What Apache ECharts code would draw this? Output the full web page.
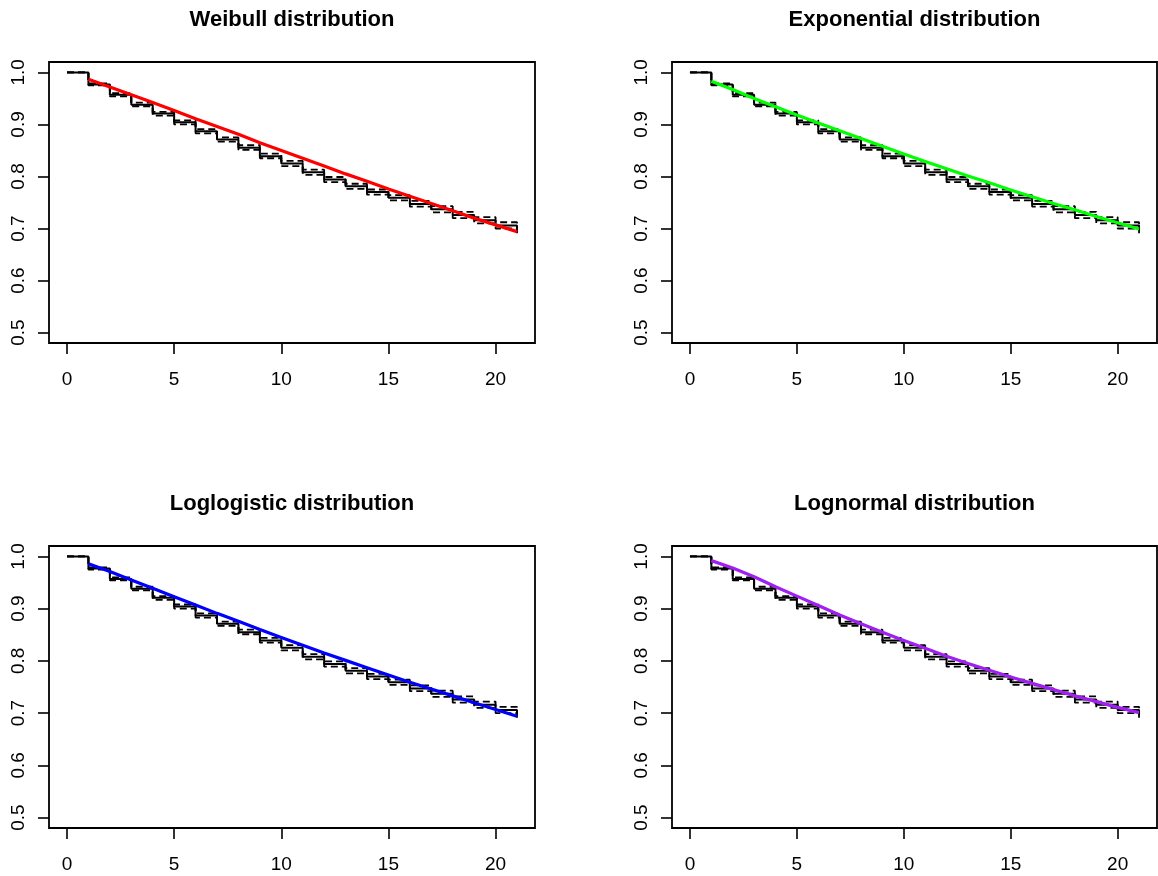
<!DOCTYPE html>
<html>
<head>
<meta charset="utf-8">
<title>Survival fits</title>
<script src="https://cdn.jsdelivr.net/npm/echarts/dist/echarts.min.js"></script>
<style>
  html, body { margin: 0; padding: 0; background: #fff; }
  #chart { width: 1158px; height: 876px; }
</style>
</head>
<body>
<div id="chart"></div>
<script>
// Kaplan-Meier estimate with pointwise confidence limits
const timePoints = [0, 1, 2, 3, 4, 5, 6, 7, 8, 9, 10, 11, 12, 13, 14, 15, 16, 17, 18, 19, 20, 21];
const kmSurvival = [1.0, 0.977, 0.957, 0.938, 0.921, 0.904, 0.887, 0.871, 0.855, 0.839, 0.825,
                    0.808, 0.794, 0.781, 0.770, 0.759, 0.747, 0.737, 0.726, 0.716, 0.706, 0.697];
const kmLower = [1.0, 0.975, 0.954, 0.935, 0.917, 0.900, 0.883, 0.867, 0.851, 0.835, 0.820,
                 0.803, 0.789, 0.776, 0.765, 0.754, 0.742, 0.731, 0.720, 0.710, 0.700, 0.691];
const kmUpper = [1.0, 0.979, 0.960, 0.942, 0.924, 0.908, 0.891, 0.875, 0.860, 0.844, 0.830,
                 0.813, 0.799, 0.786, 0.775, 0.764, 0.753, 0.743, 0.732, 0.722, 0.712, 0.703];

// Parametric survival curves evaluated at the event times
const fitTimes = [1, 2, 3, 4, 5, 6, 7, 8, 9, 10, 11, 12, 13, 14, 15, 16, 17, 18, 19, 20, 21];
const weibullFit = [0.987, 0.972, 0.957, 0.942, 0.927, 0.911, 0.896, 0.881, 0.865, 0.850, 0.835,
                    0.820, 0.805, 0.791, 0.776, 0.762, 0.748, 0.734, 0.720, 0.707, 0.694];
const exponentialFit = [0.983, 0.967, 0.950, 0.934, 0.918, 0.903, 0.888, 0.873, 0.858, 0.843, 0.829,
                        0.815, 0.801, 0.788, 0.774, 0.761, 0.748, 0.736, 0.723, 0.711, 0.699];
const loglogisticFit = [0.986, 0.971, 0.955, 0.939, 0.923, 0.907, 0.891, 0.876, 0.860, 0.845, 0.830,
                        0.815, 0.801, 0.787, 0.773, 0.759, 0.746, 0.733, 0.720, 0.707, 0.694];
const lognormalFit = [0.992, 0.978, 0.961, 0.942, 0.924, 0.906, 0.888, 0.871, 0.855, 0.839, 0.824,
                      0.809, 0.795, 0.782, 0.769, 0.757, 0.745, 0.733, 0.722, 0.711, 0.701];

const panelTitles = ['Weibull distribution', 'Exponential distribution',
                     'Loglogistic distribution', 'Lognormal distribution'];
const fitColors = ['#FF0000', '#00FF00', '#0000FF', '#A020F0'];
const xTickValues = [0, 5, 10, 15, 20];
const yTickValues = [0.5, 0.6, 0.7, 0.8, 0.9, 1.0];

const fits = [weibullFit, exponentialFit, loglogisticFit, lognormalFit];

// panel layout: plot boxes in pixels
const boxes = [
  { left: 49,  top: 62,  width: 486, height: 281 },
  { left: 672, top: 62,  width: 485, height: 281 },
  { left: 49,  top: 546, width: 486, height: 282 },
  { left: 672, top: 546, width: 485, height: 282 }
];

const FONT = '"Liberation Sans", Arial, Helvetica, sans-serif';

const pairs = (xs, ys) => xs.map((x, i) => [x, ys[i]]);

const grid = [], xAxis = [], yAxis = [], series = [], title = [];

boxes.forEach((b, i) => {
  grid.push({
    left: b.left, top: b.top, width: b.width, height: b.height,
    show: true, borderColor: '#000', borderWidth: 1.8, backgroundColor: 'transparent',
    containLabel: false
  });
  title.push({
    text: panelTitles[i],
    left: b.left + b.width / 2,
    top: b.top - 53,
    padding: 0,
    textAlign: 'center',
    textStyle: { fontFamily: FONT, fontWeight: 'bold', fontSize: 22, color: '#000' }
  });
  xAxis.push({
    type: 'value', gridIndex: i, min: -0.84, max: 21.84,
    axisLine: { show: false, onZero: false },
    splitLine: { show: false },
    axisTick: { show: true, length: 11, customValues: xTickValues,
                lineStyle: { color: '#000', width: 1.6 } },
    axisLabel: { show: true, customValues: xTickValues, margin: 27,
                 fontFamily: FONT, fontSize: 19, color: '#000' }
  });
  yAxis.push({
    type: 'value', gridIndex: i, min: 0.48, max: 1.02,
    axisLine: { show: false, onZero: false },
    splitLine: { show: false },
    axisTick: { show: true, length: 11, customValues: yTickValues,
                lineStyle: { color: '#000', width: 1.6 } },
    axisLabel: { show: true, customValues: yTickValues, rotate: 90, margin: 21,
                 formatter: v => v.toFixed(1),
                 fontFamily: FONT, fontSize: 19, color: '#000' }
  });

  const common = { type: 'line', xAxisIndex: i, yAxisIndex: i, symbol: 'none',
                   silent: true, animation: false };
  series.push(Object.assign({}, common, {
    name: 'lower' + i, step: 'end', data: pairs(timePoints, kmLower),
    lineStyle: { color: '#000', width: 1.8, type: [7, 4] }
  }));
  series.push(Object.assign({}, common, {
    name: 'upper' + i, step: 'end', data: pairs(timePoints, kmUpper),
    lineStyle: { color: '#000', width: 1.8, type: [7, 4] }
  }));
  series.push(Object.assign({}, common, {
    name: 'km' + i, step: 'end', data: pairs(timePoints, kmSurvival),
    lineStyle: { color: '#000', width: 2 }
  }));
  series.push(Object.assign({}, common, {
    name: 'fit' + i, data: pairs(fitTimes, fits[i]), smooth: false,
    lineStyle: { color: fitColors[i], width: 3.2 }
  }));
});

const chart = echarts.init(document.getElementById('chart'), null, { renderer: 'canvas' });
chart.setOption({
  animation: false,
  backgroundColor: '#fff',
  title, grid, xAxis, yAxis, series
});
</script>
</body>
</html>
